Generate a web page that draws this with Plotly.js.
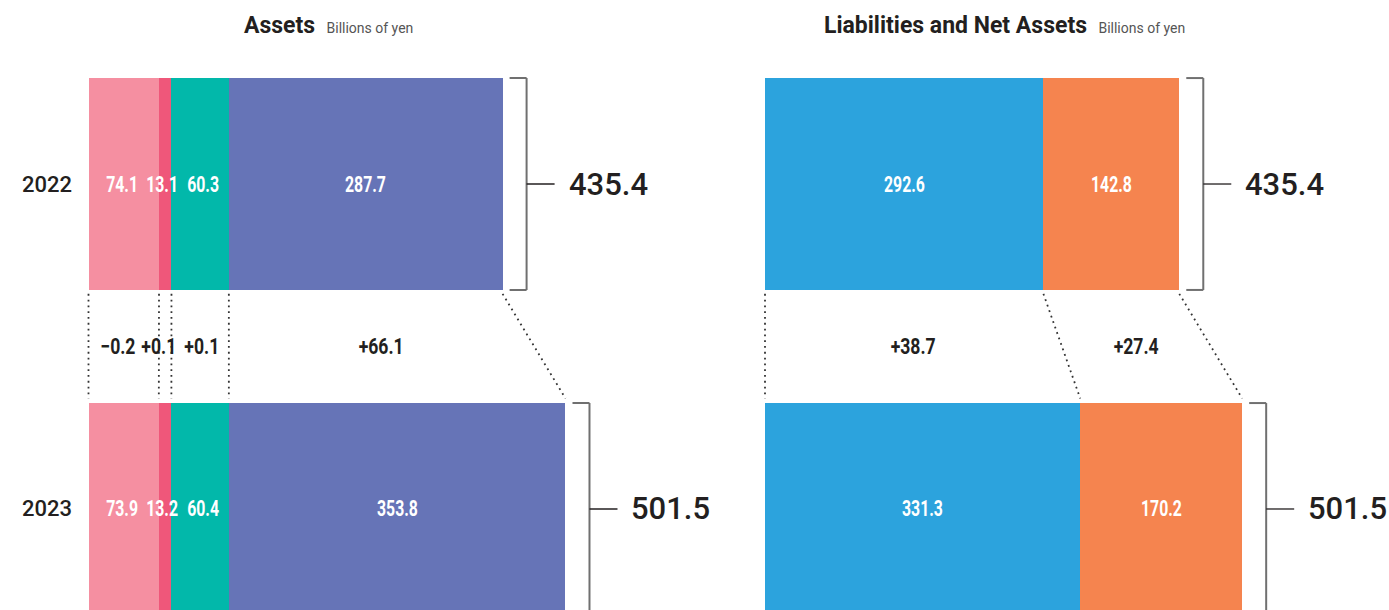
<!DOCTYPE html>
<html>
<head>
<meta charset="utf-8">
<script src="https://cdn.plot.ly/plotly-3.0.1.min.js"></script>
<style>html,body{margin:0;padding:0;background:#fff;}#chart{width:1389px;height:610px;}</style>
</head>
<body>
<div id="chart"></div>
<script>
// ---------------- DATA ----------------
const years = ['2022', '2023'];
const assetParts = ['Asset part 1', 'Asset part 2', 'Asset part 3', 'Asset part 4'];
const assets2022 = [74.1, 13.1, 60.3, 287.7];
const assets2023 = [73.9, 13.2, 60.4, 353.8];
const assetChanges = ['−0.2', '+0.1', '+0.1', '+66.1'];
const liabParts = ['Liabilities', 'Net assets'];
const liab2022 = [292.6, 142.8];
const liab2023 = [331.3, 170.2];
const liabChanges = ['+38.7', '+27.4'];
const totals = ['435.4', '501.5'];
const titles = ['Assets', 'Liabilities and Net Assets'];
const unitLabel = 'Billions of yen';

// ---------------- STYLE ----------------
const assetColors = ['#F58FA1', '#EF577A', '#02B8AA', '#6674B7'];
const liabColors = ['#2CA3DD', '#F5844F'];
const W = 1389, H = 610;
const pxPerUnit = 0.9515;
const leftZeroPx = 88.5, rightZeroPx = 765;
const barWidth = 0.652;
const yRange = [1.3108, -0.5662];
const dark = '#231f20';
const mainFont = 'Roboto, "Noto Sans", sans-serif';
const insideRatio = 0.72;
const changeRatio = 0.80;
const insideShiftA = [-2, -3, 3, 0];
const changeShiftA = [-6, -6, 2, 0];
const insideShiftL = [0, 0];
const changeShiftL = [0, 0];

const half = W / 2;
const xRange1 = [-leftZeroPx / pxPerUnit, (half - leftZeroPx) / pxPerUnit];
const xRange2 = [-(rightZeroPx - half) / pxPerUnit, (W - rightZeroPx) / pxPerUnit];

const traces = [];
const shapes = [];
const annotations = [];
const condensed = [];

function addCond(a, ratio) { condensed.push([annotations.length, ratio]); annotations.push(a); }

function buildPanel(parts, v22, v23, colors, changes, xa, insideShift, changeShift) {
  const xref = xa === 'x' ? 'x' : 'x2';
  const series = [v22, v23];
  parts.forEach((p, i) => {
    traces.push({
      type: 'bar', orientation: 'h', name: p,
      x: [v22[i], v23[i]], y: [0, 1],
      xaxis: xa, yaxis: 'y', width: barWidth,
      marker: {color: colors[i], line: {width: 0}},
      hoverinfo: 'skip', showlegend: false
    });
  });
  const cums = series.map(v => {
    const c = [0];
    v.forEach(d => c.push(c[c.length - 1] + d));
    return c;
  });
  series.forEach((v, yi) => {
    v.forEach((d, i) => {
      addCond({
        xref: xref, yref: 'y', x: cums[yi][i] + d / 2, y: yi,
        text: d.toFixed(1), showarrow: false, xshift: insideShift[i],
        font: {family: mainFont, size: 22, color: '#ffffff', weight: 700}
      }, insideRatio);
    });
  });
  for (let k = 0; k < cums[0].length; k++) {
    shapes.push({
      type: 'line', xref: xref, yref: 'y',
      x0: cums[0][k], x1: cums[1][k],
      y0: barWidth / 2 + 0.012, y1: 1 - barWidth / 2 - 0.014,
      line: {color: '#333333', width: 1.8, dash: '1.8px,4px'}
    });
  }
  changes.forEach((t, i) => {
    const c22 = cums[0][i] + series[0][i] / 2;
    const c23 = cums[1][i] + series[1][i] / 2;
    addCond({
      xref: xref, yref: 'y', x: (c22 + c23) / 2, y: 0.5,
      text: t, showarrow: false, xshift: changeShift[i],
      font: {family: mainFont, size: 22, color: dark, weight: 700}
    }, changeRatio);
  });
  [0, 1].forEach(yi => {
    const end = cums[yi][cums[yi].length - 1];
    const top = yi - barWidth / 2, bot = yi + barWidth / 2;
    const br = {color: '#707070', width: 2};
    shapes.push({type: 'line', xref: xref, yref: 'y', xsizemode: 'pixel', xanchor: end, x0: 7, x1: 24, y0: top, y1: top, line: br});
    shapes.push({type: 'line', xref: xref, yref: 'y', xsizemode: 'pixel', xanchor: end, x0: 24, x1: 24, y0: top, y1: bot, line: br});
    shapes.push({type: 'line', xref: xref, yref: 'y', xsizemode: 'pixel', xanchor: end, x0: 7, x1: 24, y0: bot, y1: bot, line: br});
    shapes.push({type: 'line', xref: xref, yref: 'y', xsizemode: 'pixel', xanchor: end, x0: 24, x1: 52, y0: yi, y1: yi, line: {color: dark, width: 1.3}});
    annotations.push({
      xref: xref, yref: 'y', x: end, y: yi, xanchor: 'left',
      text: totals[yi], showarrow: false, xshift: 64,
      font: {family: mainFont, size: 31, color: dark, weight: 500}
    });
  });
}

buildPanel(assetParts, assets2022, assets2023, assetColors, assetChanges, 'x', insideShiftA, changeShiftA);
buildPanel(liabParts, liab2022, liab2023, liabColors, liabChanges, 'x2', insideShiftL, changeShiftL);

years.forEach((yr, yi) => {
  annotations.push({
    xref: 'x', yref: 'y', x: 0, y: yi, xanchor: 'right',
    text: yr, showarrow: false, xshift: -15,
    font: {family: mainFont, size: 22, color: dark, weight: 500}
  });
});

const titleX = [328 / W, 1004 / W];
titles.forEach((t, i) => {
  annotations.push({
    xref: 'paper', yref: 'paper', x: titleX[i], y: 1 - 25 / H,
    xanchor: 'center', yanchor: 'middle',
    text: '<b>' + t + '</b>  <span style="font-size:14px;font-weight:400;color:#555555">' + unitLabel + '</span>',
    showarrow: false,
    font: {family: mainFont, size: 23, color: dark}
  });
});

const layout = {
  width: W, height: H,
  margin: {l: 0, r: 0, t: 0, b: 0},
  paper_bgcolor: '#ffffff', plot_bgcolor: '#ffffff',
  barmode: 'stack', bargap: 0,
  showlegend: false,
  xaxis: {domain: [0, 0.5], range: xRange1, visible: false, fixedrange: true},
  xaxis2: {domain: [0.5, 1], range: xRange2, visible: false, fixedrange: true, anchor: 'y'},
  yaxis: {range: yRange, visible: false, fixedrange: true},
  shapes: shapes,
  annotations: annotations
};

Plotly.newPlot('chart', traces, layout, {staticPlot: true, displayModeBar: false}).then(gd => {
  // narrow the value labels (condensed lettering, as in the original)
  condensed.forEach(([i, ratio]) => {
    const t = gd.querySelector('.annotation[data-index="' + i + '"] text.annotation-text');
    if (!t) return;
    const len = t.getComputedTextLength();
    t.setAttribute('textLength', (len * ratio).toFixed(1));
    t.setAttribute('lengthAdjust', 'spacingAndGlyphs');
  });
});
</script>
</body>
</html>
